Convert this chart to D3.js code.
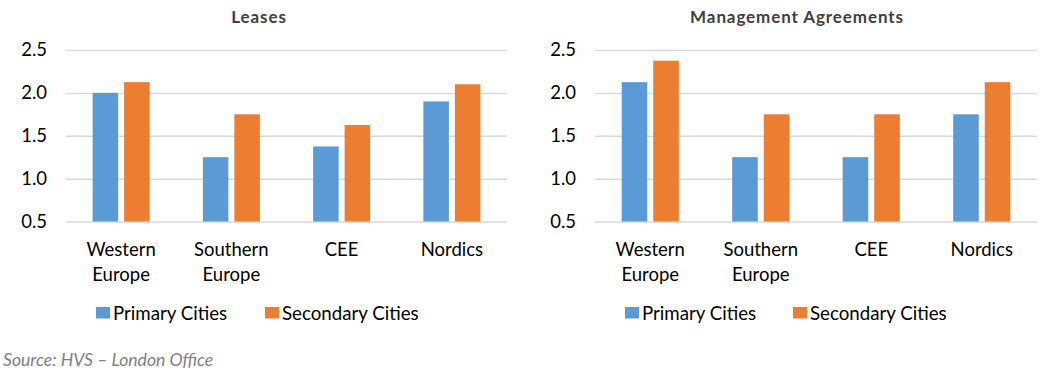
<!DOCTYPE html>
<html><head><meta charset="utf-8">
<script src="https://cdn.jsdelivr.net/npm/d3@7"></script>
<style>body{margin:0;background:#fff}svg{display:block}</style>
</head><body>
<svg id="c" width="1050" height="371"></svg>
<script>
const categories = ["Western Europe", "Southern Europe", "CEE", "Nordics"];
const seriesNames = ["Primary Cities", "Secondary Cities"];
const leasesPrimary = [2.0, 1.25, 1.375, 1.9];
const leasesSecondary = [2.125, 1.75, 1.625, 2.1];
const mgmtPrimary = [2.125, 1.25, 1.25, 1.75];
const mgmtSecondary = [2.375, 1.75, 1.75, 2.125];
const yTicks = [0.5, 1.0, 1.5, 2.0, 2.5];
const panelTitles = ["Leases", "Management Agreements"];
const sourceText = "Source: HVS \u2013 London Office";

const colors = ["#5b9bd5", "#ed7d31"];
const font = "Lato, 'Open Sans', sans-serif";
const svg = d3.select("#c");

const panels = [
  {title: panelTitles[0], data: [leasesPrimary, leasesSecondary], x0: 66, x1: 507, titleX: 259, tickX: 47, legX: [96, 265]},
  {title: panelTitles[1], data: [mgmtPrimary, mgmtSecondary], x0: 595, x1: 1037, titleX: 797, tickX: 576, legX: [625, 793]}
];

const y = d3.scaleLinear().domain([0.5, 2.5]).range([221.5, 50]);

panels.forEach((p) => {
  const g = svg.append("g");
  const x = d3.scaleBand().domain(categories).range([p.x0, p.x1]).paddingInner(0.483).paddingOuter(0.2415);
  const xs = d3.scaleBand().domain(seriesNames).range([0, x.bandwidth()]).paddingInner(0.19);

  const yAxis = d3.axisLeft(y).tickValues(yTicks).tickFormat(d3.format(".1f")).tickSize(-(p.x1 - p.x0)).tickPadding(p.x0 - p.tickX);
  const ag = g.append("g").attr("transform", `translate(${p.x0},0)`).call(yAxis);
  ag.select(".domain").remove();
  ag.selectAll(".tick line").attr("stroke", "#d9d9d9").attr("stroke-width", 1.5);
  ag.selectAll(".tick text").attr("fill", "#000").style("font-family", font).style("font-size", "18.5px");

  seriesNames.forEach((s, si) => {
    g.append("g").selectAll("rect").data(categories).join("rect")
      .attr("x", (c) => x(c) + xs(s))
      .attr("width", xs.bandwidth())
      .attr("y", (c, i) => y(p.data[si][i]))
      .attr("height", (c, i) => y(0.5) - y(p.data[si][i]))
      .attr("fill", colors[si]);
  });

  const xl = g.append("g");
  categories.forEach(c => {
    const cx = x(c) + x.bandwidth() / 2;
    const t = xl.append("text").attr("x", cx).attr("y", 256)
      .attr("text-anchor", "middle").style("font-family", font).style("font-size", "18.5px").attr("fill", "#000");
    c.split(" ").forEach((w, i) => t.append("tspan").attr("x", cx).attr("dy", i ? 24.5 : 0).text(w));
  });

  g.append("text").attr("x", p.titleX).attr("y", 23).attr("text-anchor", "middle")
    .style("font-family", font).style("font-size", "17px").style("font-weight", "bold").style("letter-spacing", "0.9px")
    .attr("fill", "#404040").text(p.title);

  seriesNames.forEach((s, si) => {
    g.append("rect").attr("x", p.legX[si]).attr("y", 307).attr("width", 14).attr("height", 11.5).attr("fill", colors[si]);
    g.append("text").attr("x", p.legX[si] + 17).attr("y", 320).style("font-family", font).style("font-size", "18.7px").attr("fill", "#000").text(s);
  });
});

svg.append("text").attr("x", 3).attr("y", 366).style("font-family", font).style("font-size", "17.6px")
  .style("font-style", "italic").attr("fill", "#7f7f7f").text(sourceText);
</script>
</body></html>
